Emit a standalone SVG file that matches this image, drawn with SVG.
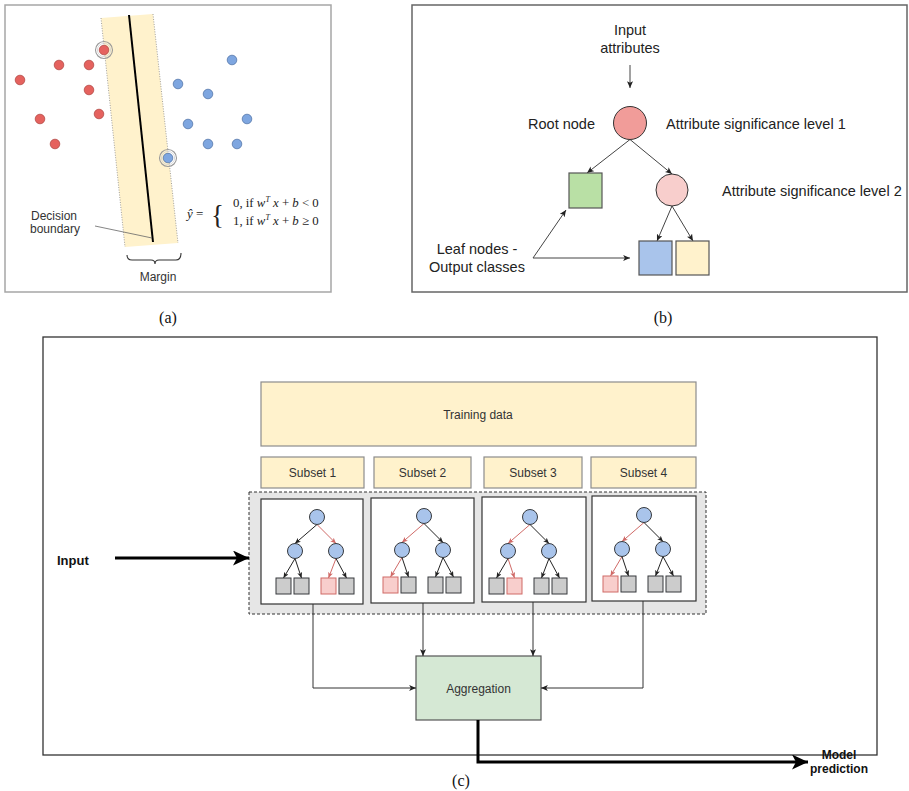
<svg xmlns="http://www.w3.org/2000/svg" width="909" height="791" viewBox="0 0 909 791">
  <style>
    .sans { font-family: "Liberation Sans", Arial, sans-serif; }
    .serif { font-family: "Liberation Serif", "Times New Roman", serif; }
    .lbl { font-size: 12px; fill: #333; }
    .lbl14 { font-size: 14.5px; fill: #222; }
    .bold { font-weight: bold; fill: #111; }
    .frame-a { fill: #fff; stroke: #a6a6a6; stroke-width: 1.5; }
    .frame-b { fill: #fff; stroke: #666; stroke-width: 1.5; }
    .frame-c { fill: none; stroke: #333; stroke-width: 1.3; }
    .red-pt { fill: #e5625e; stroke: #b34b48; stroke-width: 0.8; }
    .blue-pt { fill: #7ea6e0; stroke: #5677aa; stroke-width: 0.8; }
    .halo { fill: none; stroke: #9a9a9a; stroke-width: 1.1; }
    .halo2 { fill: none; stroke: #d0d0d0; stroke-width: 0.8; }
    .edge { fill: none; stroke: #333; stroke-width: 1; }
    .edge-b { fill: none; stroke: #444; stroke-width: 1; }
    .tedge { fill: none; stroke: #222; stroke-width: 1; }
    .tedge-r { fill: none; stroke: #d06a67; stroke-width: 1; }
    .tnode { fill: #a9c4eb; stroke: #36393d; stroke-width: 1; }
    .tleaf { fill: #cccccc; stroke: #36393d; stroke-width: 1; }
    .tleaf-r { fill: #f8cecc; stroke: #d06a67; stroke-width: 1; }
    .data { fill: #fff2cc; stroke: #8c8c8c; stroke-width: 1.2; }
    .treebox { fill: #fff; stroke: #333; stroke-width: 1.2; }
    .thick { fill: none; stroke: #000; stroke-width: 3; }
  </style>
  <defs>
    <marker id="arr" viewBox="0 0 8 7" refX="8" refY="3.5" markerWidth="7" markerHeight="6" markerUnits="userSpaceOnUse" orient="auto">
      <path d="M0,0 L8,3.5 L0,7 L2,3.5 z" fill="#222"/>
    </marker>
    <marker id="arr-s" viewBox="0 0 8 7" refX="8" refY="3.5" markerWidth="6" markerHeight="5" markerUnits="userSpaceOnUse" orient="auto">
      <path d="M0,0 L8,3.5 L0,7 L2,3.5 z" fill="#222"/>
    </marker>
    <marker id="arr-r" viewBox="0 0 8 7" refX="8" refY="3.5" markerWidth="6" markerHeight="5" markerUnits="userSpaceOnUse" orient="auto">
      <path d="M0,0 L8,3.5 L0,7 L2,3.5 z" fill="#d06a67"/>
    </marker>
    <marker id="arr-big" viewBox="0 0 16 15" refX="16" refY="7.5" markerWidth="16" markerHeight="15" markerUnits="userSpaceOnUse" orient="auto">
      <path d="M0,0 L16,7.5 L0,15 L4,7.5 z" fill="#000"/>
    </marker>
  </defs>

  <rect width="909" height="791" fill="#fff"/>

  <!-- (a) linear separator with margin -->
  <g id="panel-a">
    <rect class="frame-a" x="5" y="5" width="326" height="287"/>
    <g id="margin-band">
      <polygon points="101,18 153,14 178,243 125,247" fill="#fff2cc"/>
      <line x1="101" y1="18" x2="125" y2="247" stroke="#8a8a8a" stroke-width="0.8" stroke-dasharray="1,1.5"/>
      <line x1="153" y1="14" x2="178" y2="243" stroke="#8a8a8a" stroke-width="0.8" stroke-dasharray="1,1.5"/>
    </g>
    <line id="decision-line" x1="129" y1="15" x2="153" y2="242" stroke="#000" stroke-width="2"/>
    <g id="class-red">
      <circle class="halo" cx="104" cy="50" r="8.5"/>
      <circle class="halo2" cx="104" cy="50" r="6.6"/>
      <circle class="red-pt" cx="104" cy="50" r="4.8"/>
      <circle class="red-pt" cx="59" cy="65" r="4.8"/>
      <circle class="red-pt" cx="89" cy="65" r="4.8"/>
      <circle class="red-pt" cx="20" cy="80" r="4.8"/>
      <circle class="red-pt" cx="89" cy="90" r="4.8"/>
      <circle class="red-pt" cx="99" cy="114" r="4.8"/>
      <circle class="red-pt" cx="40" cy="119" r="4.8"/>
      <circle class="red-pt" cx="55" cy="144" r="4.8"/>
    </g>
    <g id="class-blue">
      <circle class="blue-pt" cx="232" cy="60" r="4.8"/>
      <circle class="blue-pt" cx="178" cy="84" r="4.8"/>
      <circle class="blue-pt" cx="208" cy="94" r="4.8"/>
      <circle class="blue-pt" cx="247" cy="119" r="4.8"/>
      <circle class="blue-pt" cx="188" cy="124" r="4.8"/>
      <circle class="blue-pt" cx="208" cy="144" r="4.8"/>
      <circle class="blue-pt" cx="237" cy="144" r="4.8"/>
      <circle class="halo" cx="168" cy="158" r="8.5"/>
      <circle class="halo2" cx="168" cy="158" r="6.6"/>
      <circle class="blue-pt" cx="168" cy="158" r="4.8"/>
    </g>
    <g id="boundary-label">
      <line x1="95" y1="226" x2="152" y2="238" stroke="#666" stroke-width="0.8"/>
      <text class="sans lbl" x="31" y="220" font-size="12.5">Decision</text>
      <text class="sans lbl" x="30" y="233" font-size="12.5">boundary</text>
    </g>
    <g id="margin-label">
      <path d="M127,255 Q127,260 132,260 H151 Q155,260 155,264 Q155,260 159,260 H176 Q181,260 181,253" fill="none" stroke="#333" stroke-width="1.1"/>
      <text class="sans lbl" x="158" y="281" text-anchor="middle">Margin</text>
    </g>
    <g id="decision-rule" class="serif" fill="#222">
      <text x="187" y="218" font-size="13"><tspan font-style="italic">ŷ</tspan> =</text>
      <text x="211" y="224" font-size="27">{</text>
      <text x="233" y="207" font-size="12.8">0, if <tspan font-style="italic">w</tspan><tspan dy="-5" font-size="8" font-style="italic">T</tspan><tspan dy="5" font-style="italic"> x</tspan> + <tspan font-style="italic">b</tspan> &lt; 0</text>
      <text x="233" y="225" font-size="12.8">1, if <tspan font-style="italic">w</tspan><tspan dy="-5" font-size="8" font-style="italic">T</tspan><tspan dy="5" font-style="italic"> x</tspan> + <tspan font-style="italic">b</tspan> ≥ 0</text>
    </g>
  </g>
  <text class="serif" x="168" y="323" font-size="16" text-anchor="middle" fill="#111">(a)</text>

  <!-- (b) decision tree -->
  <g id="panel-b">
    <rect class="frame-b" x="412" y="5" width="495" height="287"/>
    <g id="b-connectors">
      <line class="edge-b" x1="630" y1="65" x2="630" y2="88" marker-end="url(#arr)"/>
      <line class="edge-b" x1="630" y1="139.5" x2="587" y2="173" marker-end="url(#arr)"/>
      <line class="edge-b" x1="630" y1="139.5" x2="672" y2="174" marker-end="url(#arr)"/>
      <line class="edge-b" x1="672" y1="206" x2="657" y2="241" marker-end="url(#arr)"/>
      <line class="edge-b" x1="672" y1="206" x2="693" y2="241" marker-end="url(#arr)"/>
      <line class="edge-b" x1="533" y1="258" x2="566" y2="210" marker-end="url(#arr)"/>
      <line class="edge-b" x1="533" y1="258" x2="630" y2="258" marker-end="url(#arr)"/>
    </g>
    <g id="b-input">
      <text class="sans lbl14" x="630" y="35" text-anchor="middle">Input</text>
      <text class="sans lbl14" x="630" y="53" text-anchor="middle">attributes</text>
    </g>
    <g id="b-root">
      <circle cx="630" cy="123" r="16.5" fill="#f19c99" stroke="#333" stroke-width="1"/>
      <text class="sans lbl14" x="595" y="129" text-anchor="end">Root node</text>
      <text class="sans lbl14" x="666" y="129">Attribute significance level 1</text>
    </g>
    <g id="b-level2">
      <circle cx="672" cy="190" r="16" fill="#f8cecc" stroke="#333" stroke-width="1"/>
      <text class="sans lbl14" x="722" y="196">Attribute significance level 2</text>
    </g>
    <rect id="b-leaf-green" x="569" y="173" width="33" height="35" fill="#b9e0a5" stroke="#555" stroke-width="1.2"/>
    <rect id="b-leaf-blue" x="639" y="241" width="33" height="34" fill="#a9c4eb" stroke="#555" stroke-width="1.2"/>
    <rect id="b-leaf-yellow" x="676" y="241" width="33" height="34" fill="#fff2cc" stroke="#555" stroke-width="1.2"/>
    <g id="b-leaf-label">
      <text class="sans lbl14" x="477" y="254" text-anchor="middle">Leaf nodes -</text>
      <text class="sans lbl14" x="477" y="272" text-anchor="middle">Output classes</text>
    </g>
  </g>
  <text class="serif" x="663" y="323" font-size="16" text-anchor="middle" fill="#111">(b)</text>

  <!-- (c) random forest -->
  <g id="panel-c">
    <rect class="frame-c" x="43" y="337" width="834" height="418"/>

    <g id="training-data">
      <rect class="data" x="261" y="382" width="435" height="64"/>
      <text class="sans lbl" x="478" y="419" text-anchor="middle">Training data</text>
    </g>
    <g id="subset-1">
      <rect class="data" x="261" y="457" width="103" height="31"/>
      <text class="sans lbl" x="312.5" y="477" text-anchor="middle">Subset 1</text>
    </g>
    <g id="subset-2">
      <rect class="data" x="374" y="457" width="97" height="31"/>
      <text class="sans lbl" x="422.5" y="477" text-anchor="middle">Subset 2</text>
    </g>
    <g id="subset-3">
      <rect class="data" x="484" y="457" width="98" height="31"/>
      <text class="sans lbl" x="533" y="477" text-anchor="middle">Subset 3</text>
    </g>
    <g id="subset-4">
      <rect class="data" x="591" y="457" width="105" height="31"/>
      <text class="sans lbl" x="643.5" y="477" text-anchor="middle">Subset 4</text>
    </g>

    <rect id="forest" x="249" y="492" width="457" height="122" fill="#e6e6e6" stroke="#333" stroke-width="1" stroke-dasharray="3,2"/>

    <g id="tree-1">
      <rect class="treebox" x="261" y="499" width="102" height="105"/>
      <g transform="translate(317,517)">
        <line class="tedge" x1="0" y1="7.5" x2="-22" y2="26.5" marker-end="url(#arr-s)"/>
        <line class="tedge-r" x1="0" y1="7.5" x2="19" y2="26.5" marker-end="url(#arr-r)"/>
        <line class="tedge" x1="-22" y1="41.5" x2="-33.5" y2="61" marker-end="url(#arr-s)"/>
        <line class="tedge" x1="-22" y1="41.5" x2="-15.5" y2="61" marker-end="url(#arr-s)"/>
        <line class="tedge-r" x1="19" y1="41.5" x2="11.5" y2="61" marker-end="url(#arr-r)"/>
        <line class="tedge" x1="19" y1="41.5" x2="29.5" y2="61" marker-end="url(#arr-s)"/>
        <circle class="tnode" cx="0" cy="0" r="7.5"/>
        <circle class="tnode" cx="-22" cy="34" r="7.5"/>
        <circle class="tnode" cx="19" cy="34" r="7.5"/>
        <rect class="tleaf" x="-41" y="61" width="15" height="16"/>
        <rect class="tleaf" x="-23" y="61" width="15" height="16"/>
        <rect class="tleaf-r" x="4" y="61" width="15" height="16"/>
        <rect class="tleaf" x="22" y="61" width="15" height="16"/>
      </g>
    </g>

    <g id="tree-2">
      <rect class="treebox" x="371" y="498" width="103" height="105"/>
      <g transform="translate(424,516)">
        <line class="tedge-r" x1="0" y1="7.5" x2="-22" y2="26.5" marker-end="url(#arr-r)"/>
        <line class="tedge" x1="0" y1="7.5" x2="19" y2="26.5" marker-end="url(#arr-s)"/>
        <line class="tedge-r" x1="-22" y1="41.5" x2="-33.5" y2="61" marker-end="url(#arr-r)"/>
        <line class="tedge" x1="-22" y1="41.5" x2="-15.5" y2="61" marker-end="url(#arr-s)"/>
        <line class="tedge" x1="19" y1="41.5" x2="11.5" y2="61" marker-end="url(#arr-s)"/>
        <line class="tedge" x1="19" y1="41.5" x2="29.5" y2="61" marker-end="url(#arr-s)"/>
        <circle class="tnode" cx="0" cy="0" r="7.5"/>
        <circle class="tnode" cx="-22" cy="34" r="7.5"/>
        <circle class="tnode" cx="19" cy="34" r="7.5"/>
        <rect class="tleaf-r" x="-41" y="61" width="15" height="16"/>
        <rect class="tleaf" x="-23" y="61" width="15" height="16"/>
        <rect class="tleaf" x="4" y="61" width="15" height="16"/>
        <rect class="tleaf" x="22" y="61" width="15" height="16"/>
      </g>
    </g>

    <g id="tree-3">
      <rect class="treebox" x="482" y="497" width="104" height="105"/>
      <g transform="translate(530,517)">
        <line class="tedge-r" x1="0" y1="7.5" x2="-22" y2="26.5" marker-end="url(#arr-r)"/>
        <line class="tedge" x1="0" y1="7.5" x2="19" y2="26.5" marker-end="url(#arr-s)"/>
        <line class="tedge" x1="-22" y1="41.5" x2="-33.5" y2="61" marker-end="url(#arr-s)"/>
        <line class="tedge-r" x1="-22" y1="41.5" x2="-15.5" y2="61" marker-end="url(#arr-r)"/>
        <line class="tedge" x1="19" y1="41.5" x2="11.5" y2="61" marker-end="url(#arr-s)"/>
        <line class="tedge" x1="19" y1="41.5" x2="29.5" y2="61" marker-end="url(#arr-s)"/>
        <circle class="tnode" cx="0" cy="0" r="7.5"/>
        <circle class="tnode" cx="-22" cy="34" r="7.5"/>
        <circle class="tnode" cx="19" cy="34" r="7.5"/>
        <rect class="tleaf" x="-41" y="61" width="15" height="16"/>
        <rect class="tleaf-r" x="-23" y="61" width="15" height="16"/>
        <rect class="tleaf" x="4" y="61" width="15" height="16"/>
        <rect class="tleaf" x="22" y="61" width="15" height="16"/>
      </g>
    </g>

    <g id="tree-4">
      <rect class="treebox" x="592" y="496" width="104" height="105"/>
      <g transform="translate(644,515)">
        <line class="tedge-r" x1="0" y1="7.5" x2="-22" y2="26.5" marker-end="url(#arr-r)"/>
        <line class="tedge" x1="0" y1="7.5" x2="19" y2="26.5" marker-end="url(#arr-s)"/>
        <line class="tedge-r" x1="-22" y1="41.5" x2="-33.5" y2="61" marker-end="url(#arr-r)"/>
        <line class="tedge" x1="-22" y1="41.5" x2="-15.5" y2="61" marker-end="url(#arr-s)"/>
        <line class="tedge" x1="19" y1="41.5" x2="11.5" y2="61" marker-end="url(#arr-s)"/>
        <line class="tedge" x1="19" y1="41.5" x2="29.5" y2="61" marker-end="url(#arr-s)"/>
        <circle class="tnode" cx="0" cy="0" r="7.5"/>
        <circle class="tnode" cx="-22" cy="34" r="7.5"/>
        <circle class="tnode" cx="19" cy="34" r="7.5"/>
        <rect class="tleaf-r" x="-41" y="61" width="15" height="16"/>
        <rect class="tleaf" x="-23" y="61" width="15" height="16"/>
        <rect class="tleaf" x="4" y="61" width="15" height="16"/>
        <rect class="tleaf" x="22" y="61" width="15" height="16"/>
      </g>
    </g>

    <g id="aggregation">
      <rect x="416" y="656" width="125" height="64" fill="#d5e8d4" stroke="#555" stroke-width="1.2"/>
      <text class="sans lbl" x="478.5" y="693" text-anchor="middle">Aggregation</text>
    </g>

    <g id="c-connectors">
      <polyline class="edge" points="313,604 313,688 416,688" marker-end="url(#arr)"/>
      <line class="edge" x1="423" y1="603" x2="423" y2="656" marker-end="url(#arr)"/>
      <line class="edge" x1="533" y1="602" x2="533" y2="656" marker-end="url(#arr)"/>
      <polyline class="edge" points="643,601 643,688 541,688" marker-end="url(#arr)"/>
      <line class="thick" x1="115" y1="558" x2="249" y2="558" marker-end="url(#arr-big)"/>
      <polyline class="thick" points="478,720 478,762 808,762" marker-end="url(#arr-big)"/>
    </g>

    <text id="c-input" class="sans bold" x="57" y="565" font-size="13">Input</text>
    <g id="c-output">
      <text class="sans bold" x="839" y="759" font-size="12" text-anchor="middle">Model</text>
      <text class="sans bold" x="839" y="773" font-size="12" text-anchor="middle">prediction</text>
    </g>
  </g>
  <text class="serif" x="461" y="786" font-size="16" text-anchor="middle" fill="#111">(c)</text>
</svg>
